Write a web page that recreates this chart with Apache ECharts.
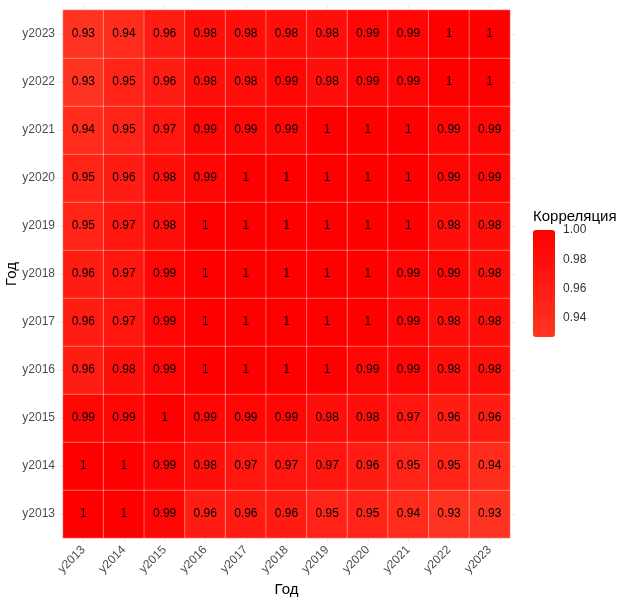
<!DOCTYPE html>
<html>
<head>
<meta charset="utf-8">
<script src="https://cdn.jsdelivr.net/npm/echarts@6/dist/echarts.min.js"></script>
<style>html,body{margin:0;padding:0;background:#fff;}#c{width:623px;height:601px;}</style>
</head>
<body>
<div id="c"></div>
<script>
const years = ['y2013','y2014','y2015','y2016','y2017','y2018','y2019','y2020','y2021','y2022','y2023'];
// rows by y category (y2013 .. y2023), values across x categories y2013 .. y2023
const row_y2013 = [1, 1, 0.99, 0.96, 0.96, 0.96, 0.95, 0.95, 0.94, 0.93, 0.93];
const row_y2014 = [1, 1, 0.99, 0.98, 0.97, 0.97, 0.97, 0.96, 0.95, 0.95, 0.94];
const row_y2015 = [0.99, 0.99, 1, 0.99, 0.99, 0.99, 0.98, 0.98, 0.97, 0.96, 0.96];
const row_y2016 = [0.96, 0.98, 0.99, 1, 1, 1, 1, 0.99, 0.99, 0.98, 0.98];
const row_y2017 = [0.96, 0.97, 0.99, 1, 1, 1, 1, 1, 0.99, 0.98, 0.98];
const row_y2018 = [0.96, 0.97, 0.99, 1, 1, 1, 1, 1, 0.99, 0.99, 0.98];
const row_y2019 = [0.95, 0.97, 0.98, 1, 1, 1, 1, 1, 1, 0.98, 0.98];
const row_y2020 = [0.95, 0.96, 0.98, 0.99, 1, 1, 1, 1, 1, 0.99, 0.99];
const row_y2021 = [0.94, 0.95, 0.97, 0.99, 0.99, 0.99, 1, 1, 1, 0.99, 0.99];
const row_y2022 = [0.93, 0.95, 0.96, 0.98, 0.98, 0.99, 0.98, 0.99, 0.99, 1, 1];
const row_y2023 = [0.93, 0.94, 0.96, 0.98, 0.98, 0.98, 0.98, 0.99, 0.99, 1, 1];
const rows = [row_y2013, row_y2014, row_y2015, row_y2016, row_y2017, row_y2018, row_y2019, row_y2020, row_y2021, row_y2022, row_y2023];
const legendTicks = [0.94, 0.96, 0.98, 1.00];
const scaleMin = 0.927, scaleMax = 1.0;

const data = [];
rows.forEach((r, yi) => r.forEach((v, xi) => data.push([xi, yi, v])));

const FONT = "'Liberation Sans', Arial, sans-serif";
const chart = echarts.init(document.getElementById('c'), null, {renderer: 'canvas'});
chart.setOption({
  animation: false,
  textStyle: {fontFamily: FONT},
  grid: [
    {left: 63, top: 10, width: 447, height: 528, containLabel: false, outerBoundsMode: 'none'},
    {left: 533, top: 230, width: 22, height: 107, containLabel: false, outerBoundsMode: 'none'}
  ],
  xAxis: [
    {type: 'category', data: years, gridIndex: 0, position: 'bottom',
     name: 'Год', nameLocation: 'middle', nameGap: 44,
     nameTextStyle: {fontSize: 15, color: '#000', fontFamily: FONT},
     axisLine: {show: false},
     axisTick: {show: true, alignWithLabel: true, length: 5, lineStyle: {color: '#EBEBEB'}},
     axisLabel: {rotate: 45, fontSize: 12, color: '#4D4D4D', margin: 10, fontFamily: FONT},
     splitLine: {show: false}},
    {type: 'category', data: years, gridIndex: 0, position: 'top',
     axisLine: {show: false}, axisLabel: {show: false},
     axisTick: {show: true, alignWithLabel: true, length: 5, lineStyle: {color: '#EBEBEB'}}},
    {type: 'value', gridIndex: 1, show: false, min: 0, max: 1}
  ],
  yAxis: [
    {type: 'category', data: years, gridIndex: 0,
     name: 'Год', nameLocation: 'middle', nameGap: 44, nameRotate: 90, nameMoveOverlap: false,
     nameTextStyle: {fontSize: 15, color: '#000', fontFamily: FONT},
     axisLine: {show: false},
     axisTick: {show: true, alignWithLabel: true, length: 5, lineStyle: {color: '#EBEBEB'}},
     axisLabel: {fontSize: 12, color: '#4D4D4D', margin: 8, fontFamily: FONT}},
    {type: 'category', data: years, gridIndex: 0, position: 'right',
     axisLine: {show: false}, axisLabel: {show: false},
     axisTick: {show: true, alignWithLabel: true, length: 5, lineStyle: {color: '#EBEBEB'}}},
    {type: 'value', gridIndex: 1, min: scaleMin, max: scaleMax, position: 'right',
     axisLine: {show: false}, splitLine: {show: false},
     axisTick: {show: true, inside: true, length: 4, customValues: legendTicks.slice(0, 3), lineStyle: {color: '#fff', width: 1}},
     axisLabel: {show: true, customValues: legendTicks, formatter: v => Number(v).toFixed(2), fontSize: 12, color: '#333', margin: 8, fontFamily: FONT}},
    {type: 'value', gridIndex: 1, min: scaleMin, max: scaleMax, position: 'left',
     axisLine: {show: false}, splitLine: {show: false}, axisLabel: {show: false},
     axisTick: {show: true, inside: true, length: 4, customValues: legendTicks.slice(0, 3), lineStyle: {color: '#fff', width: 1}}}
  ],
  visualMap: {
    type: 'continuous', min: scaleMin, max: scaleMax, seriesIndex: 0,
    show: true, calculable: false, orient: 'vertical',
    left: 533, top: 230, itemWidth: 22, itemHeight: 107, padding: 0,
    text: null, inRange: {color: ['#FF3522', '#FF0000']}, z: 1
  },
  graphic: [
    {type: 'text', left: 533, top: 209, style: {text: 'Корреляция', font: "15px " + FONT, fill: '#000'}}
  ],
  series: [
    {type: 'heatmap', xAxisIndex: 0, yAxisIndex: 0, data: data,
     itemStyle: {borderColor: 'rgba(255,255,255,0.35)', borderWidth: 1},
     label: {show: true, color: '#000', fontSize: 12, fontFamily: FONT,
             formatter: p => String(p.value[2])}},
    {type: 'scatter', xAxisIndex: 2, yAxisIndex: 2, data: [], z: 10}
  ]
});
</script>
</body>
</html>
